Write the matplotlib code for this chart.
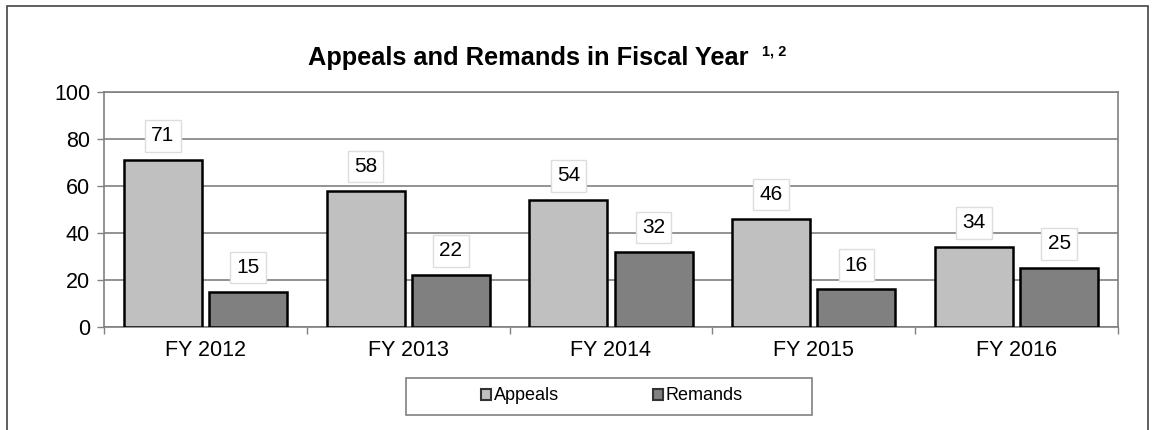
import numpy as np
import matplotlib
matplotlib.use("Agg")
import matplotlib.pyplot as plt
from matplotlib.patches import Patch, Rectangle

plt.rcParams['font.family'] = ['Liberation Sans', 'DejaVu Sans']

# Appeals and remands per fiscal year
years = ['FY 2012', 'FY 2013', 'FY 2014', 'FY 2015', 'FY 2016']
appeals = [71, 58, 54, 46, 34]
remands = [15, 22, 32, 16, 25]

W, H = 1155, 430
fig = plt.figure(figsize=(W / 100, H / 100), dpi=100)
ax = fig.add_axes([104 / W, 1 - 327 / H, (1118 - 104) / W, (327 - 92) / H])

x = np.arange(len(years))
width = 0.385
off = 0.21
b1 = ax.bar(x - off, appeals, width, color='#c0c0c0', edgecolor='black', linewidth=1.8, zorder=3)
b2 = ax.bar(x + off, remands, width, color='#808080', edgecolor='black', linewidth=1.8, zorder=3)

# value boxes above each bar
for bars, vals in [(b1, appeals), (b2, remands)]:
    for rect, v in zip(bars, vals):
        ax.annotate(str(v), (rect.get_x() + rect.get_width() / 2, v),
                    xytext=(0, 17.5), textcoords='offset points',
                    ha='center', va='center', fontsize=15, zorder=4,
                    bbox=dict(boxstyle='square,pad=0.3', fc='white', ec='#dddddd', lw=1))

ax.set_xlim(-0.5, len(years) - 0.5)
ax.set_ylim(0, 100)
ax.set_yticks(range(0, 101, 20))
ax.yaxis.grid(True, color='#808080', linewidth=1.2, zorder=0)
ax.tick_params(axis='y', labelsize=15.5, length=5, width=1, color='#808080', pad=5)

ax.set_xticks(x)
ax.set_xticklabels(years)
ax.set_xticks(np.arange(-0.5, len(years)), minor=True)
ax.tick_params(axis='x', which='major', length=0, labelsize=15.5, pad=9)
ax.tick_params(axis='x', which='minor', length=5, width=1, color='#808080')

for s in ax.spines.values():
    s.set_color('#808080')
    s.set_linewidth(1.2)

fig.text(308 / W, 1 - 65 / H, 'Appeals and Remands in Fiscal Year',
         ha='left', va='baseline', fontsize=18.3, fontweight='bold')
fig.text(762 / W, 1 - 55 / H, '1, 2', ha='left', va='baseline',
         fontsize=10.5, fontweight='bold')

# outer frame
fig.patches.append(Rectangle((7 / W, -0.1), (1148 - 7) / W, 1.1 - 6 / H,
                             transform=fig.transFigure, fill=False, ec='#444444', lw=1.2))

# legend box
fig.patches.append(Rectangle((406 / W, 1 - 415 / H), (812 - 406) / W, 37 / H,
                             transform=fig.transFigure, fill=False, ec='#808080', lw=1.2))
handles = [Patch(fc='#c0c0c0', ec='#333333', lw=1.5, label='Appeals'),
           Patch(fc='#808080', ec='#333333', lw=1.5, label='Remands')]
fig.legend(handles=handles, loc='center', bbox_to_anchor=(612 / W, 1 - 396 / H),
           ncol=2, frameon=False, fontsize=13, handlelength=0.55, handleheight=0.55,
           handletextpad=0.15, columnspacing=5.2)

fig.savefig('out.png', dpi=100)
